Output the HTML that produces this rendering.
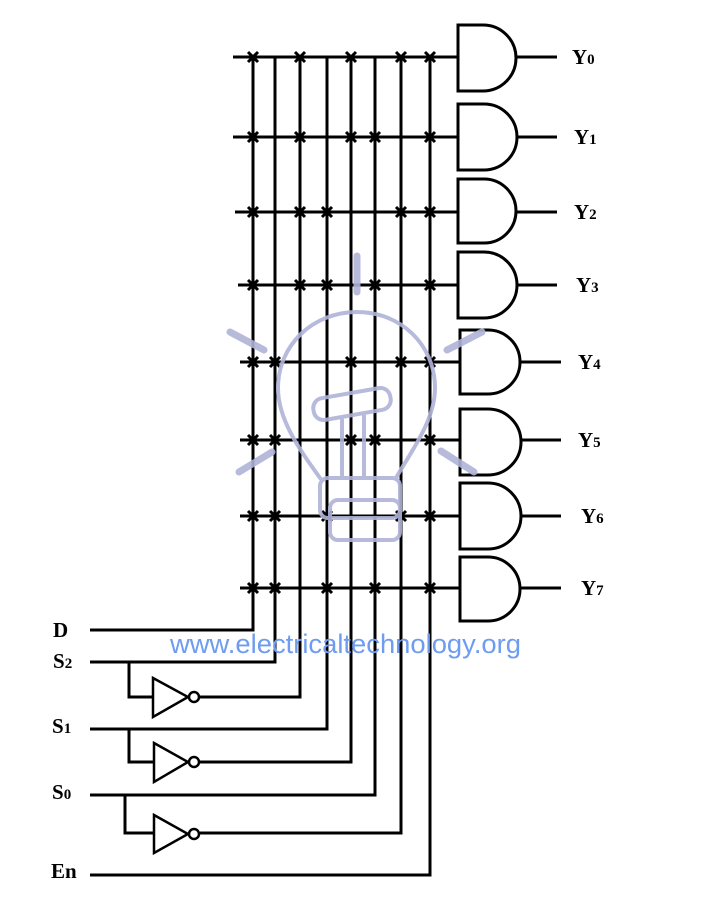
<!DOCTYPE html>
<html><head><meta charset="utf-8"><style>html,body{margin:0;padding:0;background:#fff}svg{display:block}</style></head>
<body>
<svg width="702" height="906" viewBox="0 0 702 906" xmlns="http://www.w3.org/2000/svg">
<defs>
<g id="x"><path d="M-5,-5L5,5M-5,5L5,-5" stroke="#000" stroke-width="3"/></g>
</defs>
<g stroke="#000" stroke-width="3" fill="none">
<path d="M253,57V630H90"/>
<path d="M275,57V662H90"/>
<path d="M300,57V697H200"/>
<path d="M327,57V729H90"/>
<path d="M351,57V762H200"/>
<path d="M375,57V795H90"/>
<path d="M401,57V833H200"/>
<path d="M430,57V875H90"/>
<path d="M129,662V697H153"/><path d="M129,729V762H153"/><path d="M125,795V833H153"/>
</g>
<g stroke="#000" stroke-width="2.5" fill="#fff">
<path d="M153,678L188,697L153,717Z"/><circle cx="194" cy="697" r="5"/>
<path d="M154,743L188,762L154,782Z"/><circle cx="194" cy="762" r="5"/>
<path d="M154,815L188,834L154,853Z"/><circle cx="194" cy="834" r="5"/>
</g>
<g stroke="#000" stroke-width="3">
<line x1="233" y1="57" x2="458" y2="57"/><line x1="516" y1="57" x2="557" y2="57"/>
<line x1="233" y1="137" x2="458" y2="137"/><line x1="516" y1="137" x2="557" y2="137"/>
<line x1="235" y1="212" x2="458" y2="212"/><line x1="516" y1="212" x2="557" y2="212"/>
<line x1="238" y1="285" x2="458" y2="285"/><line x1="516" y1="285" x2="557" y2="285"/>
<line x1="240" y1="362" x2="460" y2="362"/><line x1="520" y1="362" x2="561" y2="362"/>
<line x1="240" y1="440" x2="460" y2="440"/><line x1="520" y1="440" x2="561" y2="440"/>
<line x1="240" y1="516" x2="460" y2="516"/><line x1="520" y1="516" x2="561" y2="516"/>
<line x1="240" y1="588" x2="460" y2="588"/><line x1="520" y1="588" x2="561" y2="588"/>
</g>
<g stroke="#000" stroke-width="3" fill="#fff">
<path d="M458,25H483A33,33 0 0 1 483,91H458Z"/>
<path d="M458,104H484A33,33 0 0 1 484,170H458Z"/>
<path d="M458,179H484A32,32 0 0 1 484,243H458Z"/>
<path d="M458,252H484A33,33 0 0 1 484,318H458Z"/>
<path d="M460,330H488A32,32 0 0 1 488,394H460Z"/>
<path d="M460,409H488A33,33 0 0 1 488,475H460Z"/>
<path d="M460,483H488A33,33 0 0 1 488,549H460Z"/>
<path d="M460,557H488A32,32 0 0 1 488,621H460Z"/>
</g>
<g>
<use href="#x" x="253" y="57"/><use href="#x" x="300" y="57"/><use href="#x" x="351" y="57"/><use href="#x" x="401" y="57"/><use href="#x" x="430" y="57"/>
<use href="#x" x="253" y="137"/><use href="#x" x="300" y="137"/><use href="#x" x="351" y="137"/><use href="#x" x="375" y="137"/><use href="#x" x="430" y="137"/>
<use href="#x" x="253" y="212"/><use href="#x" x="300" y="212"/><use href="#x" x="327" y="212"/><use href="#x" x="401" y="212"/><use href="#x" x="430" y="212"/>
<use href="#x" x="253" y="285"/><use href="#x" x="300" y="285"/><use href="#x" x="327" y="285"/><use href="#x" x="375" y="285"/><use href="#x" x="430" y="285"/>
<use href="#x" x="253" y="362"/><use href="#x" x="275" y="362"/><use href="#x" x="351" y="362"/><use href="#x" x="401" y="362"/><use href="#x" x="430" y="362"/>
<use href="#x" x="253" y="440"/><use href="#x" x="275" y="440"/><use href="#x" x="351" y="440"/><use href="#x" x="375" y="440"/><use href="#x" x="430" y="440"/>
<use href="#x" x="253" y="516"/><use href="#x" x="275" y="516"/><use href="#x" x="327" y="516"/><use href="#x" x="401" y="516"/><use href="#x" x="430" y="516"/>
<use href="#x" x="253" y="588"/><use href="#x" x="275" y="588"/><use href="#x" x="327" y="588"/><use href="#x" x="375" y="588"/><use href="#x" x="430" y="588"/>
</g>
<g stroke="#b0b3d6" fill="none" stroke-linecap="round" opacity="0.9">
<g stroke-width="7">
<line x1="357" y1="256" x2="357" y2="292"/>
<line x1="230" y1="332" x2="264" y2="350"/>
<line x1="447" y1="350" x2="482" y2="332"/>
<line x1="239" y1="472" x2="272" y2="452"/>
<line x1="441" y1="451" x2="474" y2="472"/>
</g>
<g stroke-width="4">
<path d="M320,478 C300,450 278,420 278,388 C278,345 313,312 357,312 C401,312 435,345 435,388 C435,420 412,450 396,478"/>
<rect x="313" y="393" width="78" height="22" rx="10" transform="rotate(-10 352 404)"/>
<line x1="342" y1="420" x2="342" y2="478"/><line x1="364" y1="416" x2="364" y2="478"/>
<rect x="320" y="478" width="80" height="40" rx="8"/>
<rect x="330" y="500" width="70" height="40" rx="8"/>
</g>
</g>
<g font-family="Liberation Serif, serif" font-weight="bold" font-size="21" fill="#000">
<text x="572" y="64">Y<tspan font-size="15">0</tspan></text>
<text x="574" y="144">Y<tspan font-size="15">1</tspan></text>
<text x="574" y="219">Y<tspan font-size="15">2</tspan></text>
<text x="576" y="292">Y<tspan font-size="15">3</tspan></text>
<text x="578" y="369">Y<tspan font-size="15">4</tspan></text>
<text x="578" y="447">Y<tspan font-size="15">5</tspan></text>
<text x="581" y="523">Y<tspan font-size="15">6</tspan></text>
<text x="581" y="595">Y<tspan font-size="15">7</tspan></text>
<text x="53" y="637">D</text>
<text x="53" y="668">S<tspan font-size="15">2</tspan></text>
<text x="52" y="733">S<tspan font-size="15">1</tspan></text>
<text x="52" y="799">S<tspan font-size="15">0</tspan></text>
<text x="51" y="878">En</text>
</g>
<text x="170" y="653" font-family="Liberation Sans, sans-serif" font-size="27" fill="#6e9cf0" textLength="351" lengthAdjust="spacingAndGlyphs">www.electricaltechnology.org</text>
</svg>
</body></html>
